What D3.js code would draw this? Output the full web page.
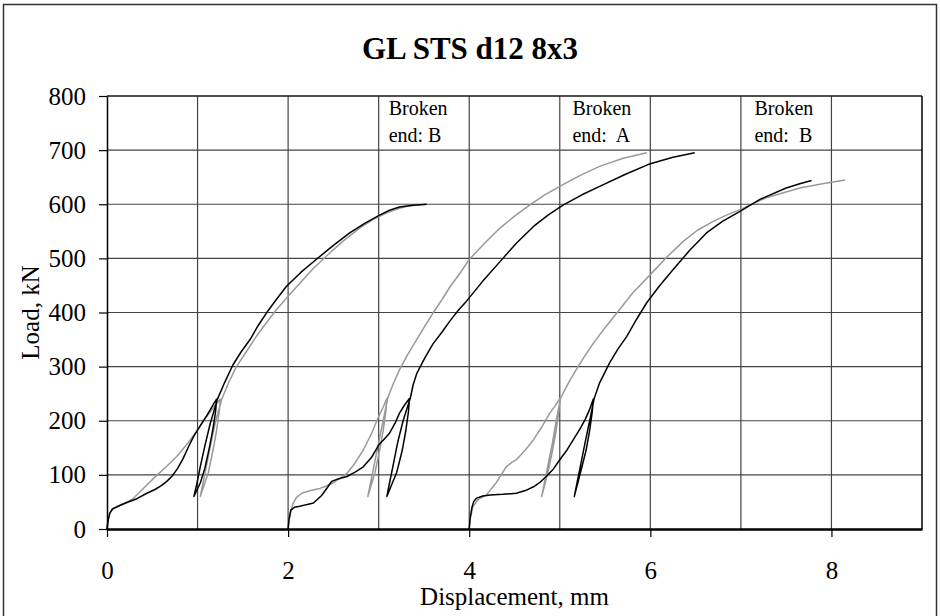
<!DOCTYPE html>
<html>
<head>
<meta charset="utf-8">
<script src="https://cdn.jsdelivr.net/npm/d3@7"></script>
<style>
  html, body { margin: 0; padding: 0; background: #fff; }
  svg { display: block; font-family: "Liberation Serif", "Times New Roman", serif; }
  .note { white-space: pre; }
</style>
</head>
<body>
<svg id="chart"></svg>
<script>
// load-displacement curves (mm, kN)
// specimens are shifted 2 mm apart on the x axis
const s1Black = [[0,0],[0.01,14],[0.03,29],[0.06,37],[0.11,41],[0.22,49],[0.33,56],[0.44,66],[0.53,73],[0.6,80],[0.66,88],[0.72,98],[0.78,112],[0.84,130],[0.9,152],[0.96,172],[1.03,191],[1.1,209],[1.16,226],[1.21,240],
  [1.2,218],[1.17,185],[1.13,150],[1.08,112],[1.03,85],[0.96,60],
  [0.99,82],[1.03,115],[1.08,153],[1.14,195],[1.22,240],
  [1.3,271],[1.39,303],[1.48,327],[1.58,350],[1.67,376],[1.76,399],[1.87,424],[1.98,448],[2.14,474],[2.31,498],[2.5,524],[2.68,547],[2.85,565],[3.01,580],[3.12,589],[3.23,595],[3.38,598],[3.53,600]]

const s1Gray = [[0,0],[0.01,14],[0.03,29],[0.07,38],[0.13,43],[0.2,48],[0.28,55],[0.36,68],[0.45,83],[0.55,99],[0.66,116],[0.77,134],[0.88,156],[0.99,180],[1.08,203],[1.17,223],[1.25,240],
  [1.24,218],[1.21,182],[1.17,145],[1.12,105],[1.03,60],
  [1.06,85],[1.1,118],[1.15,160],[1.2,200],[1.27,241],
  [1.35,273],[1.43,300],[1.54,328],[1.65,356],[1.76,381],[1.87,405],[2.0,430],[2.13,454],[2.27,480],[2.42,504],[2.6,531],[2.79,556],[2.94,572],[3.09,584],[3.22,592],[3.34,597],[3.53,600]]

const s2Black = [[2.0,0],[2.01,18],[2.03,35],[2.07,40],[2.13,42],[2.2,45],[2.28,48],[2.37,62],[2.44,78],[2.48,88],[2.56,93],[2.65,97],[2.74,105],[2.83,115],[2.92,132],[3.0,155],[3.06,166],[3.12,177],[3.18,195],[3.23,214],[3.29,230],[3.34,241],
  [3.33,218],[3.3,182],[3.26,145],[3.2,105],[3.09,60],
  [3.12,85],[3.16,118],[3.21,160],[3.27,200],[3.35,242],
  [3.38,266],[3.42,287],[3.51,316],[3.6,342],[3.7,364],[3.79,385],[3.88,404],[3.97,421],[4.15,458],[4.34,494],[4.52,528],[4.71,559],[4.87,580],[5.04,599],[5.24,617],[5.44,633],[5.72,655],[6.0,675],[6.25,687],[6.49,695]]

const s2Gray = [[2.0,0],[2.01,15],[2.03,32],[2.05,45],[2.09,58],[2.15,66],[2.25,71],[2.35,75],[2.42,79],[2.49,85],[2.57,93],[2.65,103],[2.74,122],[2.83,146],[2.92,176],[3.0,208],[3.05,225],[3.09,241],
  [3.08,218],[3.05,182],[3.01,145],[2.96,105],[2.88,60],
  [2.91,85],[2.95,118],[3.0,160],[3.05,200],[3.1,242],
  [3.16,268],[3.23,294],[3.32,322],[3.42,350],[3.51,375],[3.6,399],[3.7,424],[3.79,448],[3.9,473],[4.0,498],[4.17,528],[4.34,556],[4.5,578],[4.67,599],[4.83,617],[5.0,633],[5.22,653],[5.44,670],[5.7,685],[5.96,695]]

const s3Black = [[4.0,0],[4.01,20],[4.03,40],[4.05,51],[4.08,57],[4.15,61],[4.23,63],[4.37,64],[4.52,66],[4.62,71],[4.71,78],[4.78,86],[4.85,97],[4.93,111],[5.0,128],[5.08,146],[5.15,165],[5.22,184],[5.28,202],[5.33,221],[5.37,240],
  [5.36,218],[5.33,182],[5.29,145],[5.23,105],[5.16,60],
  [5.19,85],[5.23,118],[5.28,160],[5.33,200],[5.38,241],
  [5.44,270],[5.55,307],[5.64,332],[5.74,356],[5.85,388],[5.96,418],[6.1,449],[6.25,479],[6.43,514],[6.62,547],[6.8,569],[6.99,587],[7.21,609],[7.5,630],[7.65,638],[7.78,644]]

const s3Gray = [[4.0,0],[4.01,18],[4.04,41],[4.1,55],[4.19,63],[4.3,86],[4.41,115],[4.47,123],[4.52,128],[4.62,146],[4.71,165],[4.8,188],[4.89,214],[4.95,228],[5.0,241],
  [4.99,218],[4.96,182],[4.92,145],[4.87,105],[4.8,60],
  [4.83,85],[4.87,118],[4.92,160],[4.96,200],[5.01,242],
  [5.09,268],[5.18,294],[5.27,318],[5.37,343],[5.5,372],[5.63,399],[5.8,435],[6.0,470],[6.18,502],[6.36,531],[6.52,552],[6.69,568],[6.84,580],[6.99,590],[7.28,612],[7.65,630],[7.9,638],[8.15,645]]

const xTicks = [0, 2, 4, 6, 8]
const xGrid = [1, 2, 3, 4, 5, 6, 7, 8]
const yTicks = [0, 100, 200, 300, 400, 500, 600, 700, 800]
const noteX = [3.11, 5.14, 7.15]
const noteText = [["Broken", "end: B"], ["Broken", "end:  A"], ["Broken", "end:  B"]]

const width = 940, height = 616
const plot = {left: 107, right: 922, top: 96, bottom: 529}

let svg = d3.select('#chart')
    .attr('width', width)
    .attr('height', height)

// outer frame
svg.append('rect')
    .attr('x', 3.5).attr('y', 4.5)
    .attr('width', 933).attr('height', 660)
    .attr('fill', 'none')
    .attr('stroke', '#333')
    .attr('stroke-width', 1.5)

let x = d3.scaleLinear().domain([0, 9]).range([plot.left, plot.right])
let y = d3.scaleLinear().domain([0, 800]).range([plot.bottom, plot.top])

// grid
svg.append('g')
    .selectAll('line')
    .data(xGrid)
    .join('line')
    .attr('x1', d => x(d)).attr('x2', d => x(d))
    .attr('y1', plot.top).attr('y2', plot.bottom)
    .attr('stroke', '#444')
    .attr('stroke-width', 1.2)

svg.append('g')
    .selectAll('line')
    .data(yTicks.slice(1))
    .join('line')
    .attr('x1', plot.left).attr('x2', plot.right)
    .attr('y1', d => y(d)).attr('y2', d => y(d))
    .attr('stroke', '#444')
    .attr('stroke-width', 1.2)

// right border
svg.append('line')
    .attr('x1', plot.right).attr('x2', plot.right)
    .attr('y1', plot.top).attr('y2', plot.bottom)
    .attr('stroke', '#000')
    .attr('stroke-width', 1.5)

// curves
let line = d3.line()
    .x(d => x(d[0]))
    .y(d => y(d[1]))

const curves = [
    {data: s1Gray, color: '#999'},
    {data: s2Gray, color: '#999'},
    {data: s3Gray, color: '#999'},
    {data: s1Black, color: '#000'},
    {data: s2Black, color: '#000'},
    {data: s3Black, color: '#000'}
]

svg.append('g')
    .selectAll('path')
    .data(curves)
    .join('path')
    .attr('d', d => line(d.data))
    .attr('fill', 'none')
    .attr('stroke', d => d.color)
    .attr('stroke-width', 1.5)
    .attr('stroke-linejoin', 'round')

// axes
let yAxis = svg.append('g')
    .attr('transform', `translate(${plot.left},0)`)
    .call(d3.axisLeft(y).tickValues(yTicks).tickSize(8).tickPadding(13).tickSizeOuter(0))
yAxis.select('.domain').attr('stroke', '#000').attr('stroke-width', 1.5)
yAxis.selectAll('.tick line').attr('stroke', '#000').attr('stroke-width', 1.2)
yAxis.selectAll('.tick text')
    .attr('font-size', 25)
    .attr('font-family', '"Liberation Serif", serif')
    .attr('fill', '#000')

let xAxis = svg.append('g')
    .attr('transform', `translate(0,${plot.bottom})`)
    .call(d3.axisBottom(x).tickValues(xTicks).tickSize(8).tickPadding(24).tickSizeOuter(0))
xAxis.select('.domain').attr('stroke', '#000').attr('stroke-width', 2.5)
xAxis.selectAll('.tick line').attr('stroke', '#000').attr('stroke-width', 1.2)
xAxis.selectAll('.tick text')
    .attr('font-size', 25)
    .attr('font-family', '"Liberation Serif", serif')
    .attr('fill', '#000')

// top border
svg.append('line')
    .attr('x1', plot.left).attr('x2', plot.right)
    .attr('y1', plot.top).attr('y2', plot.top)
    .attr('stroke', '#000')
    .attr('stroke-width', 1.2)

// notes
let notes = svg.append('g')
    .selectAll('text')
    .data(noteText)
    .join('text')
    .attr('class', 'note')
    .attr('font-size', 20)
    .attr('fill', '#000')

notes.selectAll('tspan')
    .data((d, i) => d.map(t => ({t: t, i: i})))
    .join('tspan')
    .attr('x', d => x(noteX[d.i]))
    .attr('y', (d, j) => plot.top + 19 + j * 27)
    .text(d => d.t)

// titles
svg.append('text')
    .attr('x', 470).attr('y', 59)
    .attr('text-anchor', 'middle')
    .attr('font-size', 31)
    .attr('font-weight', 'bold')
    .text('GL STS d12 8x3')

svg.append('text')
    .attr('x', (plot.left + plot.right) / 2).attr('y', 605)
    .attr('text-anchor', 'middle')
    .attr('font-size', 25)
    .text('Displacement, mm')

svg.append('text')
    .attr('transform', `translate(30,${(plot.top + plot.bottom) / 2}) rotate(-90)`)
    .attr('text-anchor', 'middle')
    .attr('dominant-baseline', 'central')
    .attr('font-size', 25)
    .text('Load, kN')
</script>
</body>
</html>
